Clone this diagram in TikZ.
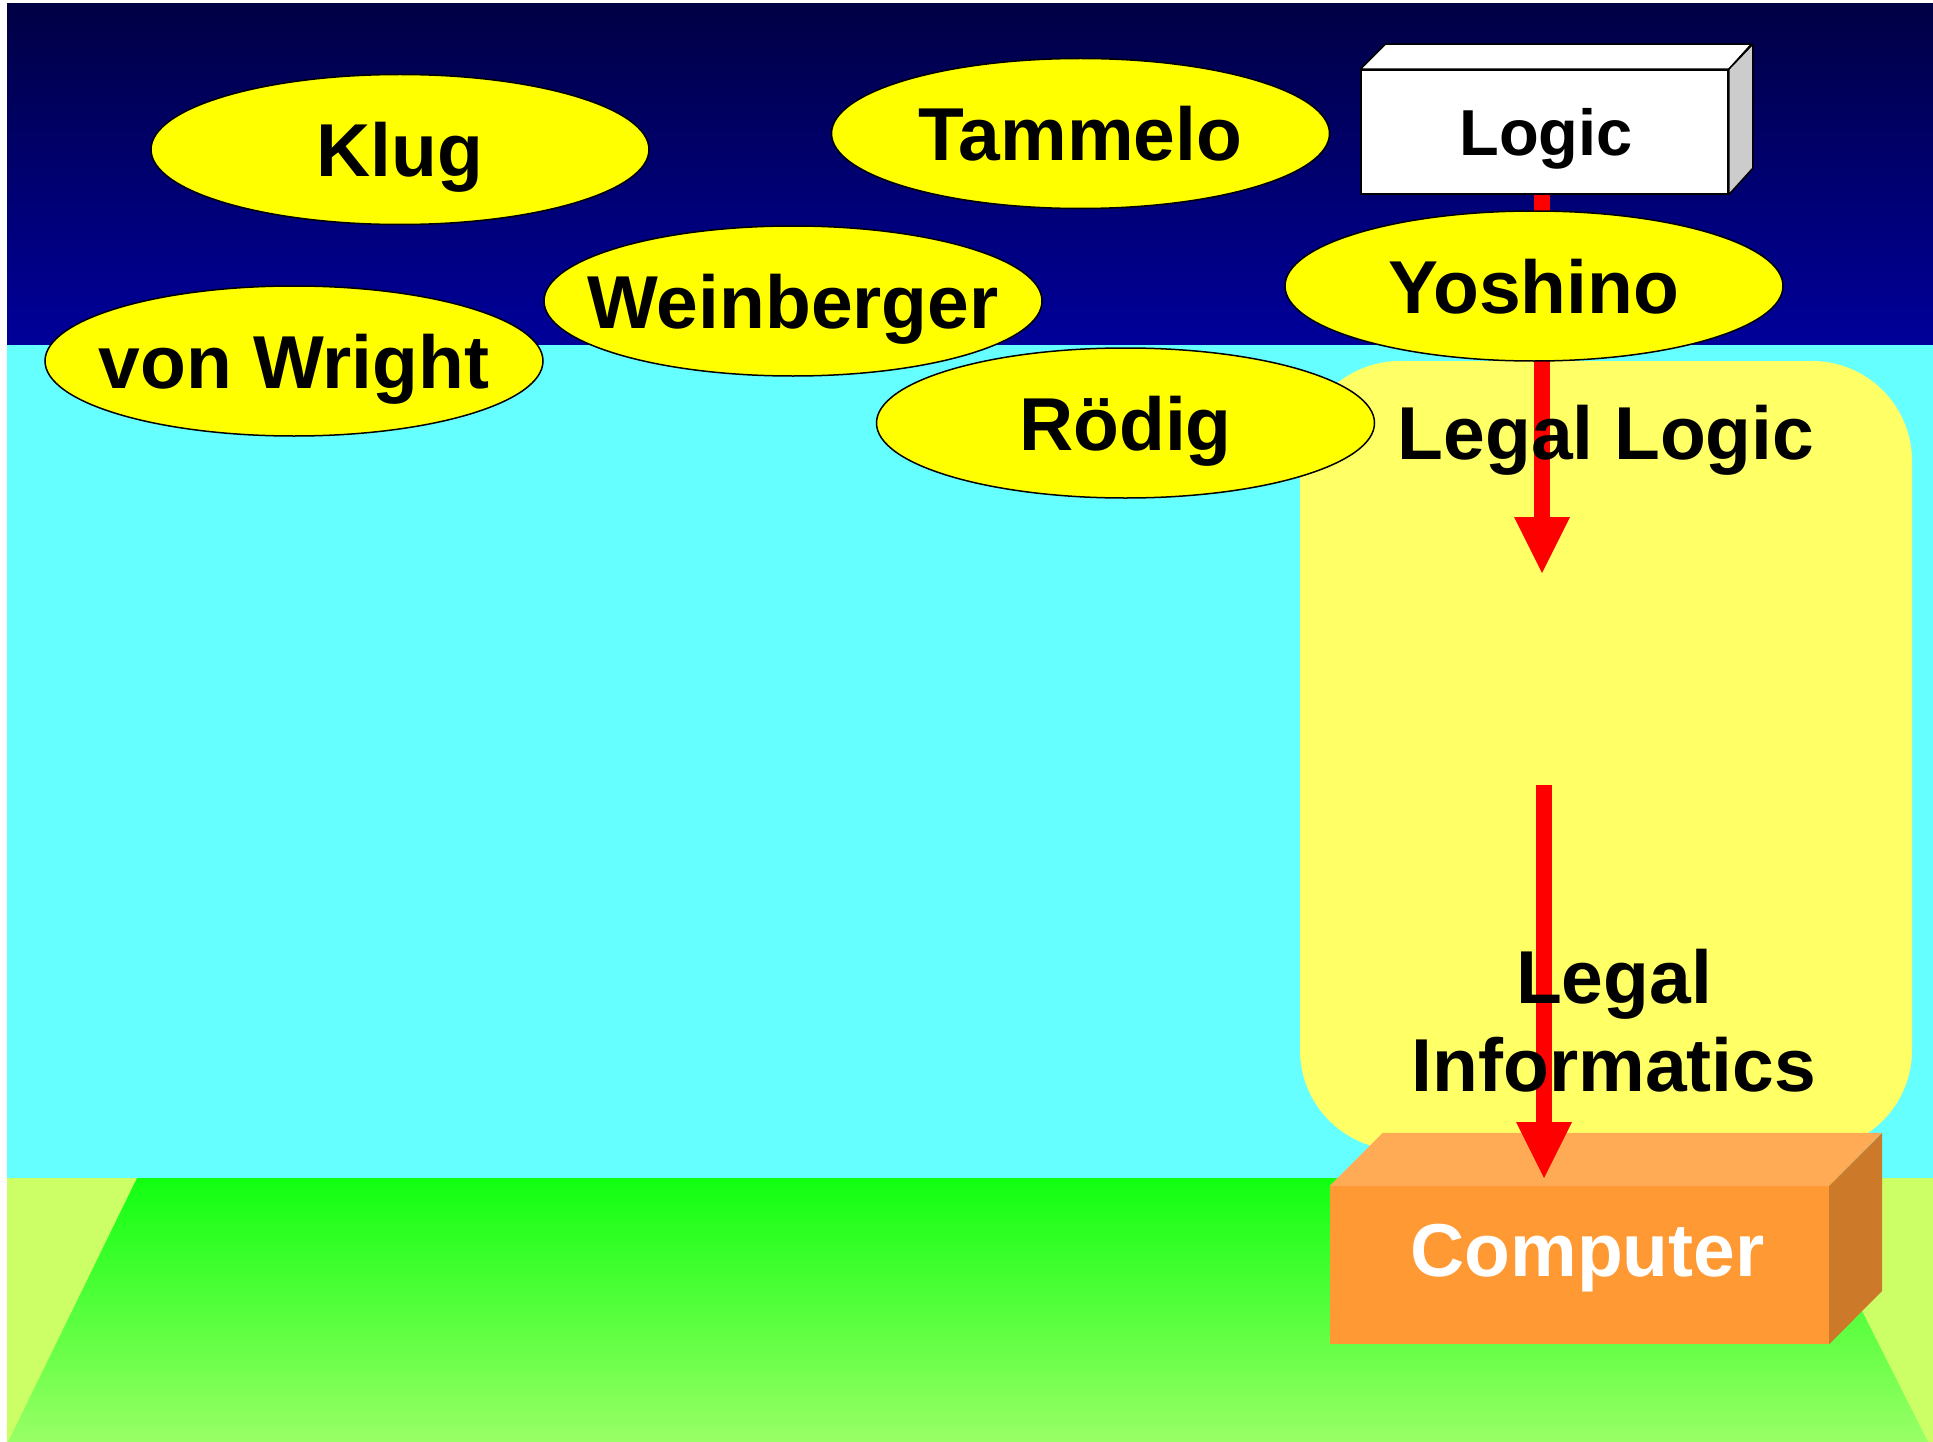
\documentclass[tikz,border=0pt]{standalone}
\usepackage{fontspec}
\setmainfont{Liberation Sans}
\usetikzlibrary{shapes.geometric,arrows.meta}
\definecolor{skytop}{HTML}{000044}
\definecolor{skybot}{HTML}{00009A}
\definecolor{aquabg}{HTML}{66FFFF}
\definecolor{limebg}{HTML}{CCFF66}
\definecolor{grtop}{HTML}{11FF11}
\definecolor{grbot}{HTML}{99FF66}
\definecolor{palebox}{HTML}{FFFF66}
\definecolor{orfront}{HTML}{FF9933}
\definecolor{ortop}{HTML}{FFAA55}
\definecolor{orside}{HTML}{CC7A29}
\definecolor{arrowred}{HTML}{FF0000}
\definecolor{ellfill}{HTML}{FFFF00}
\definecolor{boxside}{HTML}{CCCCCC}
\begin{document}
\begin{tikzpicture}[x=1pt,y=-1pt,
  ell/.style={ellipse, draw=black, line width=1.5pt, fill=ellfill,
    minimum width=498pt, minimum height=150pt, inner sep=0pt},
  lbl/.style={font=\fontsize{75}{88}\selectfont\bfseries,
    text height=55pt, text depth=0pt, inner sep=0pt},
  shaft/.style={draw=arrowred, line width=16pt,
    -{Triangle[length=56pt,width=56pt,line width=0pt]}},
  flatbox/.style={inner sep=0pt},
]
\useasboundingbox (0,0) rectangle (1933,1442);
% background
\fill[white] (0,0) rectangle (1933,1442);
\shade[top color=skytop, bottom color=skybot] (7,4) rectangle (1933,345);
\fill[aquabg] (7,345) rectangle (1933,1178);
\fill[limebg] (7,1178) rectangle (1933,1442);
\shade[top color=grtop, bottom color=grbot]
  (137,1178) -- (1795,1178) -- (1928,1442) -- (8,1442) -- cycle;

% Legal logic / informatics panel
\node[flatbox, fill=palebox, rounded corners=100pt,
  minimum width=612pt, minimum height=789pt] (legalbox) at (1606,755.5) {};

% Computer box
\node[flatbox, fill=orfront, minimum width=499pt, minimum height=158pt]
  (computer) at (1579.5,1265) {};
\fill[ortop] (computer.north west) -- ++(53,-53) -- ++(499,0)
  -- (computer.north east) -- cycle;
\fill[orside] (computer.north east) -- ++(53,-53) -- ++(0,158)
  -- (computer.south east) -- cycle;

% Logic box
\node[flatbox, draw=black, line width=1.5pt, fill=white,
  minimum width=367pt, minimum height=124pt] (logic) at (1544.5,132) {};
\filldraw[fill=white, draw=black, line width=1.5pt, line join=round]
  (logic.north west) -- ++(25,-25) -- ++(366,0) -- (logic.north east) -- cycle;
\filldraw[fill=boxside, draw=black, line width=1.5pt, line join=round]
  (logic.north east) -- ++(24,-25) -- ++(0,124) -- (logic.south east) -- cycle;

% arrows
\coordinate (tipA) at (1542,573);
\coordinate (startB) at (1544,785);
\coordinate (tipB) at (1544,1178);
\draw[shaft] (tipA |- logic.south) -- (tipA);
\draw[shaft] (startB) -- (tipB);

% ellipses
\node[ell] (klug) at (400,149.5) {};
\node[ell] (tammelo) at (1080.5,133.5) {};
\node[ell] (weinberger) at (793,301) {};
\node[ell] (vonwright) at (294,361) {};
\node[ell] (rodig) at (1125.5,423) {};
\node[ell] (yoshino) at (1534,286) {};

% texts
\node[lbl] at (klug) {Klug};
\node[lbl] at (tammelo) {Tammelo};
\node[lbl] at (weinberger) {Weinberger};
\node[lbl] at (vonwright) {von Wright};
\node[lbl] at (rodig) {Rödig};
\node[lbl] at (yoshino) {Yoshino};
\node[font=\fontsize{65}{78}\selectfont\bfseries, text height=48pt,
  text depth=0pt, inner sep=0pt] at ([xshift=1.5pt]logic.center) {Logic};
\node[lbl, anchor=base] at (1606,459) {Legal Logic};
\node[font=\fontsize{75}{88}\selectfont\bfseries, align=center,
  inner sep=0pt, anchor=north] at (1614,949) {Legal\\Informatics};
\node[lbl, text=white] at ([xshift=8pt,yshift=16pt]computer.center) {Computer};
\end{tikzpicture}
\end{document}
